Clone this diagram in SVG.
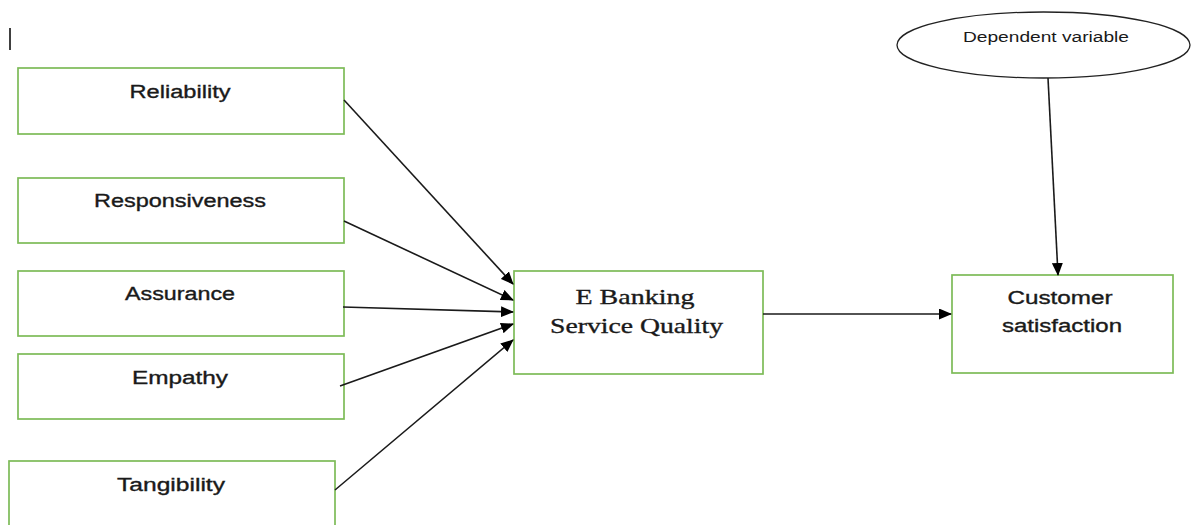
<svg xmlns="http://www.w3.org/2000/svg" width="1193" height="525" viewBox="0 0 1193 525">
<style>
.box{fill:#fff;stroke:#7dbb58;stroke-width:1.7}
.lbl{font-family:"Liberation Sans",Arial,sans-serif;font-size:18px;fill:#1a1a1a;stroke:#1a1a1a;stroke-width:0.35;text-anchor:middle}
.ser{font-family:"Liberation Serif","Times New Roman",serif;font-size:22px;fill:#1a1a1a;stroke:#1a1a1a;stroke-width:0.35;text-anchor:middle}
.small{font-family:"Liberation Sans",Arial,sans-serif;font-size:14px;fill:#1a1a1a;text-anchor:middle}
.con{stroke:#1a1a1a;stroke-width:1.6;fill:none;marker-end:url(#ah)}
</style>
<defs>
<marker id="ah" viewBox="0 0 13 11" refX="12" refY="5.5" markerWidth="13" markerHeight="11" markerUnits="userSpaceOnUse" orient="auto">
<path d="M0,0 L13,5.5 L0,11 z" fill="#000"/>
</marker>
</defs>
<rect width="1193" height="525" fill="#fff"/>
<line x1="10" y1="28" x2="10" y2="50" stroke="#000" stroke-width="1.5"/>
<g id="reliability"><rect class="box" x="18" y="68" width="326" height="66"/><text class="lbl" x="180" y="98" textLength="101" lengthAdjust="spacingAndGlyphs">Reliability</text></g>
<g id="responsiveness"><rect class="box" x="18" y="178" width="326" height="65"/><text class="lbl" x="180" y="207" textLength="172" lengthAdjust="spacingAndGlyphs">Responsiveness</text></g>
<g id="assurance"><rect class="box" x="18" y="271" width="326" height="65"/><text class="lbl" x="180" y="300" textLength="110" lengthAdjust="spacingAndGlyphs">Assurance</text></g>
<g id="empathy"><rect class="box" x="18" y="354" width="326" height="65"/><text class="lbl" x="180" y="384" textLength="96" lengthAdjust="spacingAndGlyphs">Empathy</text></g>
<g id="tangibility"><rect class="box" x="9" y="461" width="326" height="70"/><text class="lbl" x="171" y="491" textLength="108" lengthAdjust="spacingAndGlyphs">Tangibility</text></g>
<g id="ebanking"><rect class="box" x="514" y="271" width="249" height="103"/><text class="ser" x="635" y="304" textLength="119" lengthAdjust="spacingAndGlyphs">E Banking</text><text class="ser" x="636.5" y="333" textLength="173" lengthAdjust="spacingAndGlyphs">Service Quality</text></g>
<g id="customer"><rect class="box" x="952" y="275" width="221" height="98"/><text class="lbl" x="1060" y="304" textLength="105" lengthAdjust="spacingAndGlyphs">Customer</text><text class="lbl" x="1062" y="332" textLength="120" lengthAdjust="spacingAndGlyphs">satisfaction</text></g>
<g id="dependent"><ellipse cx="1043.5" cy="45" rx="146.5" ry="33" fill="#fff" stroke="#222" stroke-width="1.3"/><text class="small" x="1046" y="42" textLength="166" lengthAdjust="spacingAndGlyphs">Dependent variable</text></g>
<g id="connectors">
<line class="con" x1="344" y1="100" x2="513" y2="284"/>
<line class="con" x1="344" y1="221" x2="513" y2="300"/>
<line class="con" x1="343" y1="307" x2="513" y2="312"/>
<line class="con" x1="340" y1="386" x2="513" y2="324"/>
<line class="con" x1="335" y1="490" x2="513" y2="340"/>
<line class="con" x1="763" y1="314" x2="951" y2="314"/>
<line class="con" x1="1048" y1="78" x2="1058" y2="275"/>
</g>
</svg>
